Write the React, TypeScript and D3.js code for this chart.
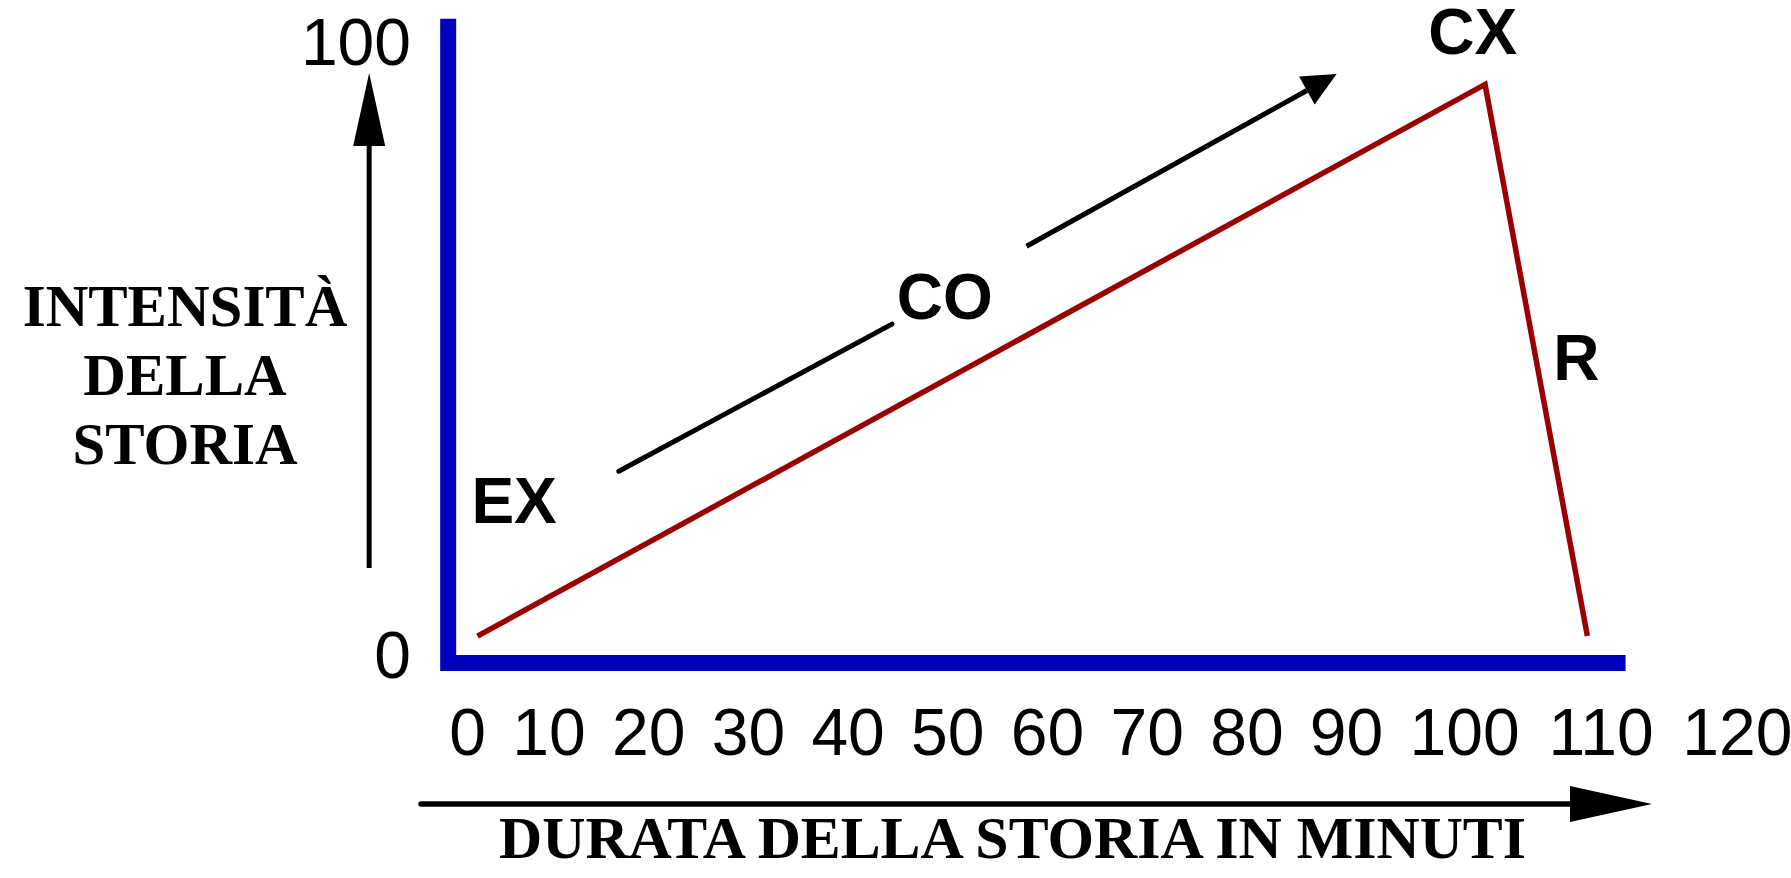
import React from "react";
import * as d3 from "d3";

// ---- data ----
const xTicks = [0, 10, 20, 30, 40, 50, 60, 70, 80, 90, 100, 110, 120];
const yTicks = [0, 100];
const storyMinutes = [1.2, 101.5, 109];
const storyIntensity = [3, 93, 3];
const phaseLabels = ["EX", "CO", "CX", "R"];
const phaseX = [5.7, 49.7, 100.6, 108.2];
const phaseY = [21.4, 54.7, 98.0, 44.8];
// trend arrow (two segments, broken around "CO")
const trendX = [17, 44.4, 57.9, 89.0];
const trendY = [29.9, 53.9, 66.6, 94.7];
const yTitleLines = ["INTENSITÀ", "DELLA", "STORIA"];
const xTitle = "DURATA DELLA STORIA IN MINUTI";

// ---- layout ----
const W = 1791;
const H = 878;
const TICK_FONT = 66;
const DIGIT = TICK_FONT * 0.556;
const GAP = 26.3;
const X0 = 467.7;
const xRange: number[] = [];
xTicks.forEach((t, i) => {
  if (i === 0) xRange.push(X0);
  else {
    const prev = String(xTicks[i - 1]).length;
    const cur = String(t).length;
    xRange.push(xRange[i - 1] + (prev * DIGIT) / 2 + GAP + (cur * DIGIT) / 2);
  }
});

const x = d3.scaleLinear().domain(xTicks).range(xRange);
const y = d3.scaleLinear().domain([0, 100]).range([654.5, 41.5]);

const BLUE = "#0000bf";
const RED = "#990000";
const SANS = "'Liberation Sans', Arial, Helvetica, sans-serif";
const SERIF = "'Liberation Serif', 'Times New Roman', serif";

function arrowHead(tx: number, ty: number, fx: number, fy: number, len: number, half: number) {
  const dx = tx - fx;
  const dy = ty - fy;
  const L = Math.hypot(dx, dy);
  const ux = dx / L;
  const uy = dy / L;
  const bx = tx - ux * len;
  const by = ty - uy * len;
  const px = -uy;
  const py = ux;
  return {
    d: `M${tx},${ty} L${bx + px * half},${by + py * half} L${bx - px * half},${by - py * half} Z`,
    bx,
    by,
  };
}

export default function App() {
  const line = d3
    .line<number>()
    .x((d, i) => x(storyMinutes[i]))
    .y((d) => y(d));

  const axisPath = `M${x(-2.4)},${y(103.7)} L${x(-2.4)},${y(-1.4)} L${x(111.8)},${y(-1.4)}`;

  // trend arrow
  const t1 = [x(trendX[0]), y(trendY[0])];
  const t2 = [x(trendX[1]), y(trendY[1])];
  const t3 = [x(trendX[2]), y(trendY[2])];
  const t4 = [x(trendX[3]), y(trendY[3])];
  const trendHead = arrowHead(t4[0], t4[1], t3[0], t3[1], 34, 16);

  // vertical (y title) arrow
  const vx = x(-2.4) - 79;
  const vBottom = 568;
  const vTip = y(100) + 31.5;
  const vHead = arrowHead(vx, vTip, vx, vBottom, 73, 16);

  // horizontal (x title) arrow
  const hy = 804;
  const hStart = 421;
  const hTip = 1652;
  const hHead = arrowHead(hTip, hy, hStart, hy, 82, 18);

  return (
    <svg
      width={W}
      height={H}
      viewBox={`0 0 ${W} ${H}`}
      style={{ position: "absolute", left: 0, top: 0, background: "#fff" }}
    >
      <rect x={0} y={0} width={W} height={H} fill="#fff" />

      {/* axes */}
      <path d={axisPath} fill="none" stroke={BLUE} strokeWidth={16} strokeLinejoin="miter" />

      {/* y tick labels */}
      {yTicks.map((t) => (
        <text
          key={t}
          x={411}
          y={y(t)}
          dy="0.358em"
          textAnchor="end"
          fontFamily={SANS}
          fontSize={66}
          fill="#000"
        >
          {t}
        </text>
      ))}

      {/* x tick labels */}
      {xTicks.map((t) => (
        <text
          key={t}
          x={x(t)}
          y={755}
          textAnchor="middle"
          fontFamily={SANS}
          fontSize={TICK_FONT}
          fill="#000"
        >
          {t}
        </text>
      ))}

      {/* story line */}
      <path d={line(storyIntensity) || ""} fill="none" stroke={RED} strokeWidth={5.5} strokeLinejoin="miter" />

      {/* trend arrow */}
      <line x1={t1[0]} y1={t1[1]} x2={t2[0]} y2={t2[1]} stroke="#000" strokeWidth={5} strokeLinecap="round" />
      <line x1={t3[0]} y1={t3[1]} x2={trendHead.bx} y2={trendHead.by} stroke="#000" strokeWidth={5} />
      <path d={trendHead.d} fill="#000" />

      {/* phase labels */}
      {phaseLabels.map((p, i) => (
        <text
          key={p}
          x={x(phaseX[i])}
          y={y(phaseY[i])}
          textAnchor="middle"
          fontFamily={SANS}
          fontWeight="bold"
          fontSize={64}
          fill="#000"
        >
          {p}
        </text>
      ))}

      {/* vertical arrow */}
      <line x1={vx} y1={vBottom} x2={vx} y2={vHead.by} stroke="#000" strokeWidth={5} />
      <path d={vHead.d} fill="#000" />

      {/* y title */}
      {yTitleLines.map((l, i) => (
        <text
          key={l}
          x={185}
          y={326 + i * 69}
          textAnchor="middle"
          fontFamily={SERIF}
          fontWeight="bold"
          fontSize={59}
          fill="#000"
        >
          {l}
        </text>
      ))}

      {/* horizontal arrow */}
      <line x1={hStart} y1={hy} x2={hHead.bx} y2={hy} stroke="#000" strokeWidth={5.5} strokeLinecap="round" />
      <path d={hHead.d} fill="#000" />

      {/* x title */}
      <text
        x={1012.5}
        y={858}
        textAnchor="middle"
        fontFamily={SERIF}
        fontWeight="bold"
        fontSize={60}
        textLength={1027}
        lengthAdjust="spacingAndGlyphs"
        fill="#000"
      >
        {xTitle}
      </text>
    </svg>
  );
}
